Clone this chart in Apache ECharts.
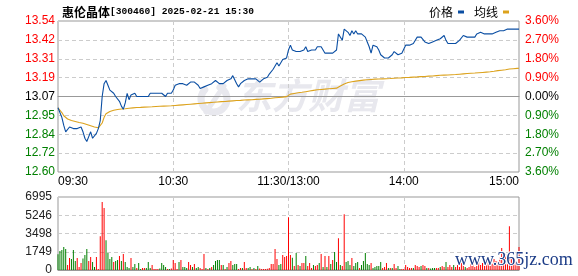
<!DOCTYPE html>
<html><head><meta charset="utf-8">
<script src="https://cdn.jsdelivr.net/npm/echarts@6/dist/echarts.min.js"></script>
<style>html,body{margin:0;padding:0;background:#fff}#c{width:578px;height:276px}</style>
</head><body><div id="c"></div>
<script>
// ---------------- data ----------------
const titleName = '惠伦晶体';
const titleInfo = '[300460] 2025-02-21 15:30';
const legendNames = ['价格', '均线'];
const prevClose = 13.07;

const xTickIdx = [0, 60, 120, 180, 240];
const xTickLabels = ['09:30', '10:30', '11:30/13:00', '14:00', '15:00'];
const leftLabels = ['12.60', '12.72', '12.84', '12.95', '13.07', '13.19', '13.31', '13.42', '13.54'];
const rightLabels = ['3.60%', '2.70%', '1.80%', '0.90%', '0.00%', '0.90%', '1.80%', '2.70%', '3.60%'];
const volLabels = ['0', '1749', '3498', '5246', '6995'];

const price = [
  13.00, 12.99, 12.94, 12.89, 12.85, 12.86, 12.88, 12.89, 12.87, 12.86,
  12.87, 12.87, 12.88, 12.85, 12.81, 12.79, 12.82, 12.85, 12.81, 12.82,
  12.84, 12.87, 12.92, 13.07, 13.15, 13.17, 13.14, 13.11, 13.10, 13.09,
  13.07, 13.07, 13.04, 13.01, 12.99, 13.03, 13.09, 13.05, 13.08, 13.09,
  13.09, 13.07, 13.08, 13.07, 13.07, 13.07, 13.08, 13.07, 13.09, 13.09,
  13.09, 13.09, 13.09, 13.09, 13.09, 13.08, 13.07, 13.09, 13.08, 13.09,
  13.11, 13.14, 13.14, 13.15, 13.16, 13.15, 13.14, 13.14, 13.15, 13.16,
  13.17, 13.16, 13.15, 13.14, 13.12, 13.12, 13.13, 13.14, 13.14, 13.15,
  13.15, 13.16, 13.17, 13.16, 13.15, 13.14, 13.15, 13.16, 13.17, 13.16,
  13.18, 13.20, 13.20, 13.15, 13.13, 13.15, 13.16, 13.17, 13.17, 13.18,
  13.19, 13.18, 13.19, 13.18, 13.18, 13.16, 13.16, 13.18, 13.17, 13.19,
  13.21, 13.22, 13.24, 13.26, 13.28, 13.26, 13.28, 13.30, 13.30, 13.31,
  13.36, 13.39, 13.36, 13.37, 13.35, 13.34, 13.35, 13.34, 13.36, 13.38,
  13.35, 13.35, 13.36, 13.36, 13.36, 13.38, 13.38, 13.38, 13.36, 13.34,
  13.34, 13.34, 13.34, 13.34, 13.33, 13.36, 13.46, 13.47, 13.42, 13.49,
  13.49, 13.47, 13.45, 13.48, 13.46, 13.48, 13.46, 13.45, 13.46, 13.46,
  13.44, 13.41, 13.38, 13.34, 13.39, 13.39, 13.38, 13.36, 13.33, 13.32,
  13.31, 13.31, 13.31, 13.31, 13.33, 13.35, 13.34, 13.33, 13.34, 13.34,
  13.35, 13.39, 13.39, 13.39, 13.39, 13.40, 13.42, 13.44, 13.44, 13.44,
  13.43, 13.41, 13.40, 13.40, 13.40, 13.41, 13.42, 13.42, 13.42, 13.43,
  13.44, 13.45, 13.42, 13.40, 13.40, 13.40, 13.40, 13.40, 13.41, 13.42,
  13.43, 13.45, 13.45, 13.44, 13.44, 13.44, 13.44, 13.44, 13.46, 13.47,
  13.47, 13.47, 13.46, 13.46, 13.46, 13.45, 13.46, 13.47, 13.47, 13.47,
  13.48, 13.48, 13.48, 13.48, 13.49, 13.50, 13.49, 13.49, 13.49, 13.49, 13.49
];

const avgPrice = [
  13.000, 12.990, 12.970, 12.950, 12.940, 12.930, 12.925, 12.920, 12.917, 12.914,
  12.911, 12.908, 12.905, 12.903, 12.900, 12.896, 12.892, 12.888, 12.884, 12.880,
  12.877, 12.875, 12.878, 12.905, 12.940, 12.962, 12.972, 12.977, 12.981, 12.984,
  12.987, 12.989, 12.991, 12.992, 12.993, 12.994, 12.996, 12.997, 12.998, 12.999,
  13.000, 13.001, 13.002, 13.002, 13.003, 13.004, 13.004, 13.005, 13.006, 13.006,
  13.007, 13.008, 13.008, 13.009, 13.009, 13.010, 13.010, 13.011, 13.011, 13.012,
  13.013, 13.014, 13.015, 13.016, 13.017, 13.018, 13.019, 13.020, 13.021, 13.022,
  13.023, 13.024, 13.025, 13.026, 13.027, 13.028, 13.029, 13.030, 13.031, 13.032,
  13.033, 13.034, 13.035, 13.036, 13.037, 13.038, 13.038, 13.039, 13.040, 13.041,
  13.042, 13.043, 13.044, 13.045, 13.045, 13.046, 13.047, 13.048, 13.048, 13.049,
  13.050, 13.050, 13.051, 13.052, 13.053, 13.053, 13.054, 13.055, 13.056, 13.057,
  13.058, 13.059, 13.060, 13.062, 13.063, 13.064, 13.065, 13.066, 13.068, 13.069,
  13.080, 13.085, 13.087, 13.089, 13.091, 13.093, 13.094, 13.096, 13.098, 13.100,
  13.102, 13.104, 13.106, 13.108, 13.110, 13.112, 13.113, 13.114, 13.115, 13.116,
  13.117, 13.118, 13.119, 13.120, 13.121, 13.122, 13.128, 13.135, 13.140, 13.148,
  13.154, 13.157, 13.160, 13.162, 13.164, 13.166, 13.168, 13.169, 13.171, 13.172,
  13.173, 13.174, 13.175, 13.176, 13.177, 13.178, 13.179, 13.179, 13.180, 13.180,
  13.181, 13.181, 13.182, 13.182, 13.183, 13.184, 13.184, 13.185, 13.185, 13.186,
  13.187, 13.188, 13.188, 13.189, 13.190, 13.191, 13.192, 13.192, 13.193, 13.194,
  13.195, 13.195, 13.196, 13.197, 13.197, 13.198, 13.199, 13.200, 13.201, 13.202,
  13.202, 13.203, 13.204, 13.204, 13.205, 13.206, 13.206, 13.207, 13.208, 13.209,
  13.210, 13.211, 13.212, 13.213, 13.214, 13.215, 13.216, 13.216, 13.217, 13.218,
  13.219, 13.220, 13.221, 13.222, 13.223, 13.224, 13.226, 13.227, 13.229, 13.231,
  13.232, 13.234, 13.235, 13.237, 13.239, 13.241, 13.242, 13.243, 13.244, 13.245, 13.246
];

const volume = [
  1500, 1813, 1908, 2194, 2003, 477, 1145, 1049, 1908, 859,
  1145, 286, 668, 1113, 1431, 2003, 859, 1240, 763, 286,
  1240, 95, 3244, 6519, 5947, 2862, 1622, 1049, 1240, 763,
  859, 954, 1336, 859, 1526, 763, 286, 191, 1145, 286,
  572, 191, 668, 95, 191, 191, 191, 763, 191, 477,
  95, 95, 95, 150, 668, 477, 286, 95, 95, 150,
  954, 668, 95, 763, 954, 286, 286, 191, 763, 477,
  286, 572, 191, 286, 191, 95, 1526, 191, 95, 191,
  286, 477, 859, 954, 954, 477, 477, 95, 286, 668,
  859, 477, 572, 572, 95, 191, 191, 763, 191, 191,
  286, 95, 191, 95, 382, 150, 95, 95, 95, 120,
  191, 572, 572, 2003, 1049, 477, 572, 1431, 1240, 1336,
  5056, 1431, 1177, 382, 1622, 477, 382, 668, 668, 1336,
  382, 668, 200, 477, 382, 477, 668, 1526, 286, 1336,
  286, 1336, 572, 954, 1717, 763, 3053, 477, 382, 5342,
  763, 859, 477, 1145, 382, 668, 763, 191, 477, 859,
  1622, 572, 477, 668, 200, 286, 382, 382, 763, 191,
  286, 668, 191, 191, 191, 572, 191, 382, 95, 95,
  95, 477, 286, 191, 191, 191, 477, 382, 286, 382,
  477, 382, 191, 191, 150, 191, 191, 191, 191, 286,
  382, 286, 763, 286, 477, 286, 477, 286, 477, 286,
  668, 477, 286, 200, 286, 572, 668, 286, 477, 763,
  477, 668, 572, 477, 859, 763, 600, 1049, 859, 859,
  1240, 2099, 1717, 1526, 1240, 4198, 1049, 477, 859, 477, 2194
];

// 1 = up (red), 0 = down (green)
const volumeUp = [
  0, 0, 0, 0, 0, 1, 1, 0, 0, 0,
  1, 1, 1, 0, 0, 0, 1, 1, 0, 0,
  1, 1, 1, 1, 1, 0, 0, 0, 0, 1,
  0, 0, 1, 0, 1, 0, 0, 0, 1, 0,
  0, 1, 0, 0, 1, 1, 0, 0, 0, 1,
  1, 1, 1, 0, 0, 0, 0, 1, 0, 1,
  1, 1, 1, 0, 1, 0, 0, 0, 1, 1,
  0, 1, 0, 0, 1, 1, 1, 0, 1, 0,
  1, 0, 0, 0, 0, 1, 0, 1, 0, 1,
  1, 0, 0, 0, 1, 1, 0, 1, 1, 0,
  0, 1, 0, 1, 0, 1, 1, 1, 1, 1,
  1, 1, 1, 1, 1, 0, 0, 1, 1, 1,
  1, 1, 0, 1, 0, 1, 0, 1, 1, 0,
  1, 1, 1, 0, 1, 1, 0, 1, 0, 1,
  0, 1, 0, 1, 0, 0, 1, 0, 1, 1,
  0, 0, 0, 1, 0, 0, 0, 1, 0, 0,
  0, 0, 0, 1, 0, 0, 0, 0, 0, 1,
  1, 1, 0, 1, 0, 1, 1, 0, 0, 1,
  1, 1, 1, 1, 1, 0, 1, 1, 1, 0,
  1, 1, 0, 1, 0, 0, 0, 1, 1, 0,
  1, 1, 0, 1, 1, 1, 0, 1, 1, 1,
  1, 1, 0, 1, 1, 1, 1, 1, 1, 1,
  1, 1, 1, 1, 1, 1, 1, 1, 1, 1,
  1, 1, 1, 1, 1, 1, 1, 1, 1, 1, 1
];

// ---------------- build ----------------
function pad(n) { return (n < 10 ? '0' : '') + n; }
const times = [];
for (let i = 0; i <= 240; i++) {
  let t = i <= 120 ? 9 * 60 + 30 + i : 13 * 60 + (i - 120);
  times.push(pad(Math.floor(t / 60)) + ':' + pad(t % 60));
}

const yMin = 12.5995, yMax = 13.5405, yInt = 0.117625;
const RED = '#ff0000', GREEN = '#008000', DARK = '#000000';
const FONT = 'Liberation Sans';
const dashed = { color: '#cccccc', type: [4, 3], width: 1 };
const splitIdx = [60, 120, 180];
const WM = '#e8e8ee';

function idxOf(v, min, step) { return Math.round((v - min) / step); }
function sideColor(i) { return i > 4 ? RED : (i < 4 ? GREEN : DARK); }

const chart = echarts.init(document.getElementById('c'), null, { renderer: 'canvas' });
chart.setOption({
  animation: false,
  backgroundColor: '#ffffff',
  title: {
    text: '{a|' + titleName + '}{b|' + titleInfo + '}',
    left: 57, top: 1,
    textStyle: {
      rich: {
        a: { fontFamily: 'Noto Sans CJK SC', fontSize: 12, color: '#000' },
        b: { fontFamily: 'Liberation Mono', fontSize: 9.6, color: '#000' }
      }
    }
  },
  legend: {
    data: legendNames,
    right: 64, top: 1,
    align: 'right',
    icon: 'rect',
    itemWidth: 6, itemHeight: 3, itemGap: 10,
    textStyle: { fontFamily: 'Noto Sans CJK SC', fontSize: 12, color: '#000' }
  },
  grid: [
    { left: 58, right: 59, top: 21, height: 151, show: true, borderColor: '#999', borderWidth: 1, outerBoundsMode: 'none', containLabel: false },
    { left: 58, right: 59, top: 197, height: 73, show: true, borderColor: '#999', borderWidth: 1, outerBoundsMode: 'none', containLabel: false }
  ],
  xAxis: [
    {
      type: 'category', gridIndex: 0, data: times, boundaryGap: false,
      axisLine: { show: true, lineStyle: { color: '#999' } },
      axisTick: { show: false },
      axisLabel: {
        interval: (i) => xTickIdx.indexOf(i) >= 0,
        formatter: (v, i) => { const k = xTickIdx.indexOf(i); return k >= 0 ? xTickLabels[k] : ''; },
        alignMinLabel: 'left', alignMaxLabel: 'right',
        margin: 4, fontSize: 12, fontFamily: FONT, color: '#000'
      },
      splitLine: { show: true, interval: (i) => splitIdx.indexOf(i) >= 0, lineStyle: dashed }
    },
    {
      type: 'category', gridIndex: 1, data: times, boundaryGap: false,
      axisLine: { show: true, lineStyle: { color: '#999' } },
      axisTick: { show: false },
      axisLabel: { show: false },
      splitLine: { show: true, interval: (i) => splitIdx.indexOf(i) >= 0, lineStyle: dashed }
    }
  ],
  yAxis: [
    {
      type: 'value', gridIndex: 0, position: 'left',
      min: yMin, max: yMax, interval: yInt, scale: true,
      axisLine: { show: false }, axisTick: { show: false },
      axisLabel: {
        showMinLabel: true, showMaxLabel: true, margin: 3,
        fontSize: 12, fontFamily: FONT,
        formatter: (v) => leftLabels[idxOf(v, yMin, yInt)] || '',
        color: (v) => sideColor(idxOf(+v, yMin, yInt))
      },
      splitLine: { show: true, lineStyle: dashed }
    },
    {
      type: 'value', gridIndex: 0, position: 'right',
      min: -3.6, max: 3.6, interval: 0.9,
      axisLine: { show: false }, axisTick: { show: false },
      axisLabel: {
        showMinLabel: true, showMaxLabel: true, margin: 6,
        fontSize: 12, fontFamily: FONT,
        formatter: (v) => rightLabels[idxOf(v, -3.6, 0.9)] || '',
        color: (v) => sideColor(idxOf(+v, -3.6, 0.9))
      },
      splitLine: { show: false }
    },
    {
      type: 'value', gridIndex: 1, position: 'left',
      min: 0, max: 6995, interval: 1748.75,
      axisLine: { show: false }, axisTick: { show: false },
      axisLabel: {
        showMinLabel: true, showMaxLabel: true, margin: 6,
        fontSize: 12, fontFamily: FONT, color: '#222',
        formatter: (v) => volLabels[idxOf(v, 0, 1748.75)] || ''
      },
      splitLine: { show: true, lineStyle: dashed }
    }
  ],
  graphic: [
    {
      type: 'arc', z: 0, silent: true,
      shape: { cx: 214, cy: 99, r: 13, startAngle: -Math.PI * 0.35, endAngle: Math.PI * 1.25 },
      style: { stroke: WM, lineWidth: 7, fill: null, lineCap: 'round' }
    },
    {
      type: 'line', z: 0, silent: true,
      shape: { x1: 206, y1: 112, x2: 224, y2: 86 },
      style: { stroke: WM, lineWidth: 5, lineCap: 'round' }
    },
    {
      type: 'text', left: 236, top: 77, z: 0, silent: true,
      style: { text: '东方财富', font: 'italic bold 36px "Noto Sans CJK SC"', fill: WM }
    },
    {
      type: 'text', left: 454, top: 250, z: 100, silent: true,
      style: { text: 'www.365jz.com', font: '18px "Liberation Serif"', fill: '#1c3c87', stroke: '#ffffff', lineWidth: 2 }
    }
  ],
  series: [
    {
      name: legendNames[0], type: 'line', xAxisIndex: 0, yAxisIndex: 0,
      data: price, symbol: 'none', z: 5,
      lineStyle: { color: '#0a4ea3', width: 1.1 }, itemStyle: { color: '#0a4ea3' }
    },
    {
      name: legendNames[1], type: 'line', xAxisIndex: 0, yAxisIndex: 0,
      data: avgPrice, symbol: 'none', z: 4,
      lineStyle: { color: '#dca21c', width: 1.1 }, itemStyle: { color: '#dca21c' }
    },
    {
      name: 'volume', type: 'bar', xAxisIndex: 1, yAxisIndex: 2,
      barWidth: 1, z: 3,
      data: volume.map((v, i) => ({ value: v, itemStyle: { color: volumeUp[i] ? RED : GREEN } }))
    }
  ]
});
</script>
</body></html>
